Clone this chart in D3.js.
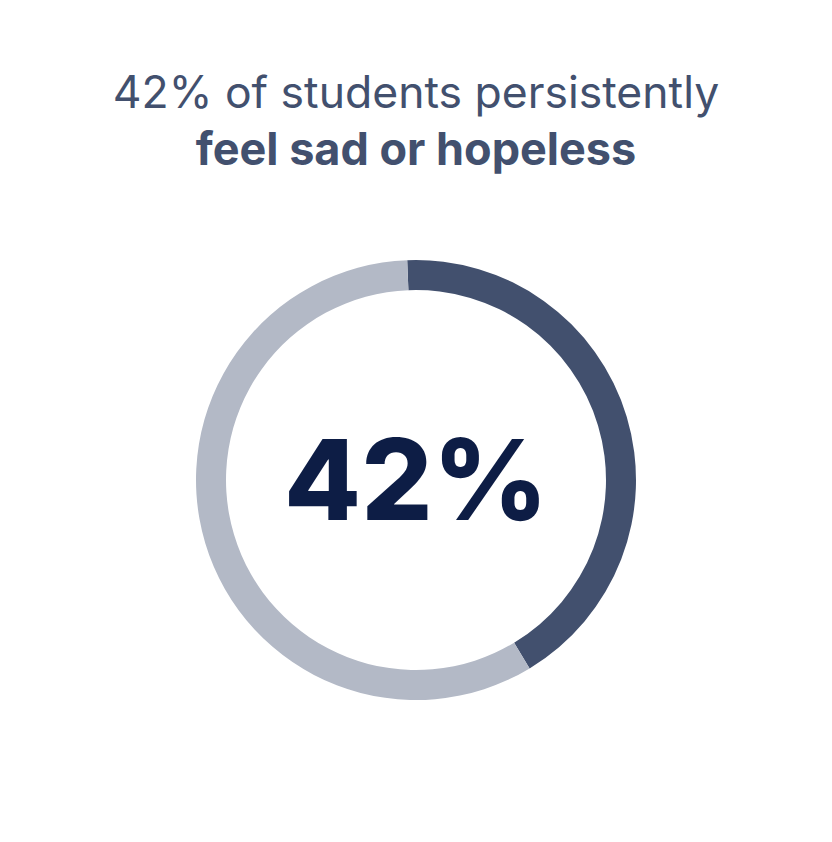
<!DOCTYPE html>
<html><head><meta charset="utf-8">
<script src="https://cdn.jsdelivr.net/npm/d3@7"></script>
<style>body{margin:0;background:#fff}</style></head>
<body><svg id="c" width="832" height="842"></svg>
<script>
const labels = ["Persistently sad or hopeless", "Other"];
const values = [42, 58];
const colors = ["#42506e", "#b3b9c6"];
const titleLine1 = "42% of students persistently";
const titleLine2 = "feel sad or hopeless";
const centerLabel = "42%";

const svg = d3.select("#c");
const font = "Inter, 'Open Sans', sans-serif";
svg.append("text").attr("x",416).attr("y",108).attr("text-anchor","middle")
  .attr("font-family",font).attr("font-size",44.5).attr("fill","#42506e").text(titleLine1);
svg.append("text").attr("x",416).attr("y",165).attr("text-anchor","middle")
  .attr("font-family",font).attr("font-weight",700).attr("font-size",45).attr("fill","#42506e").text(titleLine2);

const pie = d3.pie().sort(null).startAngle(-0.04).endAngle(2*Math.PI-0.04)(values);
const arc = d3.arc().innerRadius(190).outerRadius(220);
const g = svg.append("g").attr("transform","translate(416,480)");
g.selectAll("path").data(pie).join("path").attr("d",arc).attr("fill",(d,i)=>colors[i]);
g.append("text").attr("y",40).attr("text-anchor","middle").attr("font-family",font)
  .attr("font-weight",800).attr("font-size",112).attr("fill","#0d1d45").text(centerLabel);
</script></body></html>
